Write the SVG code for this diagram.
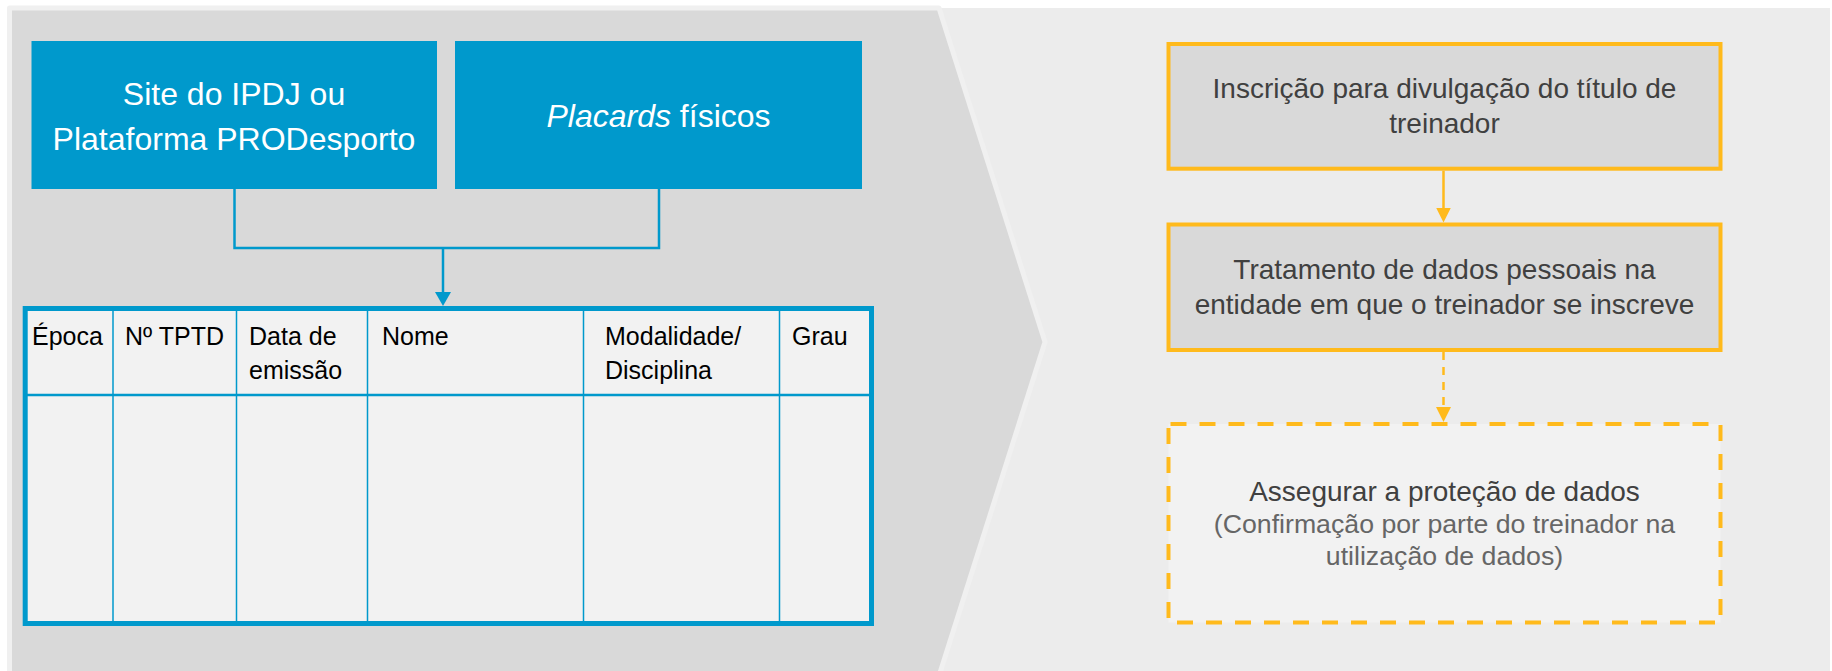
<svg xmlns="http://www.w3.org/2000/svg" width="1832" height="671" viewBox="0 0 1832 671">
<style>
  text { font-family: "Liberation Sans", Arial, sans-serif; }
  .blue { fill: #0099CC; }
  .wt { fill: #ffffff; font-size: 32px; text-anchor: middle; }
  .th { fill: #000000; font-size: 25px; }
  .grid { stroke: #0099CC; stroke-width: 1.5; fill: none; }
  .obox { fill: #d9d9d9; stroke: #FFBA1C; stroke-width: 4; }
  .dbox { fill: #f2f2f2; stroke: #FFBA1C; stroke-width: 4; stroke-dasharray: 16 13; stroke-dashoffset: -2; }
  .bt { fill: #404040; font-size: 28px; text-anchor: middle; }
  .st { fill: #666666; font-size: 26.7px; text-anchor: middle; }
  .bconn { stroke: #0099CC; stroke-width: 2.5; fill: none; }
  .oconn { stroke: #FFBA1C; stroke-width: 2.5; fill: none; }
</style>
<defs>
  <marker id="arrBlue" viewBox="0 0 14 16" refX="9" refY="8" markerWidth="14" markerHeight="16" markerUnits="userSpaceOnUse" orient="auto">
    <path d="M0,0 L14,8 L0,16 z" fill="#0099CC"/>
  </marker>
  <marker id="arrOrange" viewBox="0 0 15 15" refX="10" refY="7.5" markerWidth="15" markerHeight="15" markerUnits="userSpaceOnUse" orient="auto">
    <path d="M0,0 L15,7.5 L0,15 z" fill="#FFBA1C"/>
  </marker>
</defs>

<rect id="bg" x="0" y="0" width="1832" height="671" fill="#ffffff"/>
<rect id="rightPanel" x="900" y="8" width="930" height="672" fill="#ececec"/>
<polygon id="leftPanel" points="9.5,8 939,8 1045,342 939,676 9.5,676" fill="#d9d9d9" stroke="#f0f0f0" stroke-width="5" stroke-linejoin="round"/>

<g id="siteBox">
  <rect class="blue" x="31.5" y="41" width="405.5" height="148"/>
  <text class="wt" x="234" y="105">Site do IPDJ ou</text>
  <text class="wt" x="234" y="150">Plataforma PRODesporto</text>
</g>

<g id="placardsBox">
  <rect class="blue" x="455" y="41" width="407" height="148"/>
  <text class="wt" x="658.5" y="127"><tspan font-style="italic">Placards</tspan> físicos</text>
</g>

<g id="table">
  <rect x="25.2" y="308.5" width="846.3" height="315" fill="#f2f2f2" stroke="#0099CC" stroke-width="5"/>
  <line x1="25" y1="395" x2="871" y2="395" stroke="#0099CC" stroke-width="2.5"/>
  <line class="grid" x1="113" y1="309" x2="113" y2="622"/>
  <line class="grid" x1="236.5" y1="309" x2="236.5" y2="622"/>
  <line class="grid" x1="367.5" y1="309" x2="367.5" y2="622"/>
  <line class="grid" x1="583.5" y1="309" x2="583.5" y2="622"/>
  <line class="grid" x1="779.5" y1="309" x2="779.5" y2="622"/>
  <text class="th" x="32" y="345">Época</text>
  <text class="th" x="125" y="345">Nº TPTD</text>
  <text class="th" x="249" y="345">Data de</text>
  <text class="th" x="249" y="379">emissão</text>
  <text class="th" x="382" y="345">Nome</text>
  <text class="th" x="605" y="345">Modalidade/</text>
  <text class="th" x="605" y="379">Disciplina</text>
  <text class="th" x="792" y="345">Grau</text>
</g>

<g id="inscricaoBox">
  <rect class="obox" x="1168.5" y="44" width="552" height="124.7"/>
  <text class="bt" x="1444.5" y="98">Inscrição para divulgação do título de</text>
  <text class="bt" x="1444.5" y="133">treinador</text>
</g>

<g id="tratamentoBox">
  <rect class="obox" x="1168.5" y="224.5" width="552" height="125.5"/>
  <text class="bt" x="1444.5" y="279">Tratamento de dados pessoais na</text>
  <text class="bt" x="1444.5" y="314">entidade em que o treinador se inscreve</text>
</g>

<g id="protecaoBox">
  <rect class="dbox" x="1168.5" y="424" width="552" height="198.5"/>
  <text class="bt" x="1444.5" y="501">Assegurar a proteção de dados</text>
  <text class="st" x="1444.5" y="533">(Confirmação por parte do treinador na</text>
  <text class="st" x="1444.5" y="565">utilização de dados)</text>
</g>

<g id="connectors">
  <path class="bconn" d="M234.5,189 V248 H659 V189"/>
  <path class="bconn" d="M443,248 V301" marker-end="url(#arrBlue)"/>
  <path class="oconn" d="M1443.5,170.7 V217.5" marker-end="url(#arrOrange)"/>
  <path class="oconn" d="M1443.5,352 V417" stroke-dasharray="8 7" marker-end="url(#arrOrange)"/>
</g>
</svg>
